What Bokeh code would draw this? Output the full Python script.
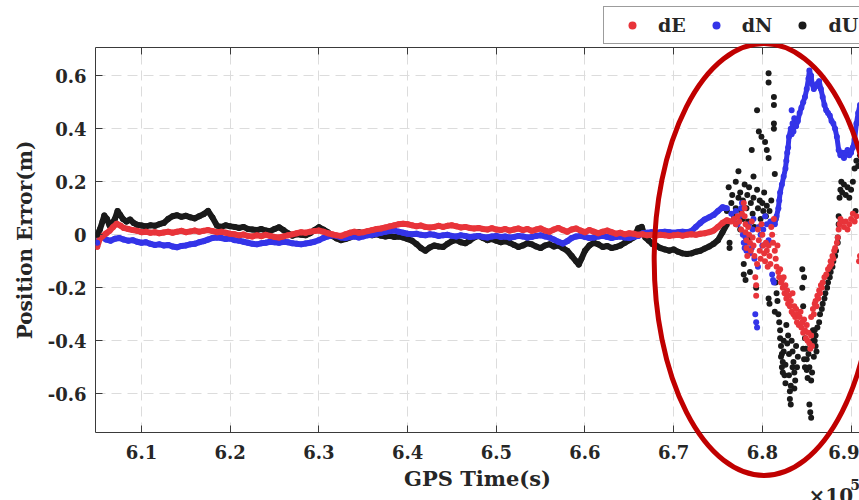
import numpy as np
from bokeh.plotting import figure
from bokeh.layouts import column
from bokeh.models import (Range1d, FixedTicker, LinearAxis, Legend, LegendItem, Label)
from bokeh.embed import file_html
from bokeh.resources import INLINE

# ---------------- data (x in units of 1e5 s, y in metres) ----------------
x_ticks = [6.1, 6.2, 6.3, 6.4, 6.5, 6.6, 6.7, 6.8, 6.9]
x_tick_labels = ["6.1", "6.2", "6.3", "6.4", "6.5", "6.6", "6.7", "6.8", "6.9"]
y_ticks = [-0.6, -0.4, -0.2, 0.0, 0.2, 0.4, 0.6]
y_tick_labels = ["-0.6", "-0.4", "-0.2", "0", "0.2", "0.4", "0.6"]

# dE (red) continuous part
dE_t = [6.050, 6.053, 6.056, 6.060, 6.064, 6.068, 6.072, 6.076, 6.080, 6.085, 6.090, 6.095,
        6.100, 6.105, 6.110, 6.115, 6.120, 6.125, 6.130, 6.135, 6.140, 6.145, 6.150, 6.155,
        6.160, 6.165, 6.170, 6.175, 6.180, 6.185, 6.190, 6.195, 6.200, 6.205, 6.210, 6.215,
        6.220, 6.225, 6.230, 6.235, 6.240, 6.245, 6.250, 6.255, 6.260, 6.265, 6.270, 6.275,
        6.280, 6.285, 6.290, 6.295, 6.300, 6.305, 6.310, 6.315, 6.320, 6.325, 6.330, 6.335,
        6.340, 6.345, 6.350, 6.355, 6.360, 6.365, 6.370, 6.375, 6.380, 6.385, 6.390, 6.395,
        6.400, 6.405, 6.410, 6.415, 6.420, 6.425, 6.430, 6.435, 6.440, 6.445, 6.450, 6.455,
        6.460, 6.465, 6.470, 6.475, 6.480, 6.485, 6.490, 6.495, 6.500, 6.505, 6.510, 6.515,
        6.520, 6.525, 6.530, 6.535, 6.540, 6.545, 6.550, 6.555, 6.560, 6.565, 6.570, 6.575,
        6.580, 6.585, 6.590, 6.595, 6.600, 6.605, 6.610, 6.615, 6.620, 6.625, 6.630, 6.635,
        6.640, 6.645, 6.650, 6.655, 6.660, 6.665, 6.670, 6.675, 6.680, 6.685, 6.690, 6.695,
        6.700, 6.705, 6.710, 6.715, 6.720, 6.725, 6.730, 6.735, 6.740, 6.745, 6.750, 6.755,
        6.760, 6.765]
dE_v = [-0.045, -0.015, -0.005, 0.005, 0.015, 0.030, 0.042, 0.035, 0.026, 0.022, 0.018, 0.015,
        0.010, 0.012, 0.008, 0.010, 0.006, 0.009, 0.012, 0.008, 0.012, 0.015, 0.010, 0.013,
        0.016, 0.012, 0.015, 0.018, 0.014, 0.010, 0.012, 0.008, 0.004, 0.002, -0.002, 0.001,
        -0.004, -0.006, -0.002, -0.005, 0.000, -0.004, -0.008, -0.010, -0.006, -0.002, 0.002, 0.006,
        0.010, 0.008, 0.012, 0.014, 0.016, 0.012, 0.006, 0.002, -0.002, -0.004, 0.002, 0.008,
        0.012, 0.008, 0.010, 0.014, 0.018, 0.022, 0.024, 0.028, 0.032, 0.036, 0.040, 0.042,
        0.040, 0.036, 0.032, 0.035, 0.030, 0.028, 0.030, 0.034, 0.030, 0.034, 0.036, 0.032,
        0.028, 0.030, 0.026, 0.024, 0.026, 0.022, 0.020, 0.025, 0.020, 0.018, 0.022, 0.016,
        0.020, 0.024, 0.018, 0.022, 0.015, 0.020, 0.024, 0.016, 0.012, 0.020, 0.026, 0.018,
        0.012, 0.020, 0.024, 0.016, 0.010, 0.018, 0.012, 0.006, 0.012, 0.016, 0.010, 0.004,
        0.008, 0.002, 0.006, 0.004, 0.000, 0.002, -0.002, 0.000, -0.003, 0.000, -0.002, -0.004,
        -0.002, 0.000, -0.003, 0.000, 0.002, 0.000, 0.004, 0.006, 0.010, 0.016, 0.030, 0.045,
        0.055, 0.050]
# dE scattered part
dE_st = [6.768, 6.770, 6.772, 6.774, 6.776, 6.777, 6.779, 6.780, 6.780, 6.781, 6.781, 6.782,
         6.782, 6.783, 6.784, 6.785, 6.786, 6.787, 6.788, 6.789, 6.790, 6.791, 6.792, 6.793,
         6.793, 6.794, 6.795, 6.796, 6.797, 6.798, 6.799, 6.800, 6.801, 6.802, 6.803, 6.804,
         6.805, 6.806, 6.807, 6.808, 6.809, 6.810, 6.811, 6.812, 6.813, 6.814, 6.815, 6.816,
         6.817, 6.818, 6.819, 6.820, 6.821, 6.822, 6.823, 6.824, 6.825, 6.826, 6.827, 6.828,
         6.829, 6.830, 6.831, 6.832, 6.833, 6.834, 6.835, 6.836, 6.837, 6.838, 6.839, 6.840,
         6.841, 6.842, 6.843, 6.844, 6.845, 6.846, 6.847, 6.848, 6.849, 6.850, 6.851, 6.852,
         6.853, 6.854, 6.855, 6.856, 6.855, 6.857, 6.858, 6.859, 6.860, 6.861, 6.862, 6.863,
         6.864, 6.865, 6.866, 6.867, 6.868, 6.870, 6.872, 6.874, 6.876, 6.877, 6.878, 6.879,
         6.880, 6.881, 6.882, 6.884, 6.885, 6.886, 6.887, 6.888, 6.890, 6.892, 6.894, 6.896,
         6.898, 6.900, 6.902, 6.904, 6.906, 6.909, 6.910]
dE_sv = [0.06, 0.04, 0.07, 0.05, 0.02, 0.08, 0.12, 0.10, 0.07, 0.04, 0.01, -0.02,
         -0.05, -0.08, 0.03, 0.00, -0.03, -0.06, 0.05, -0.01, -0.04, -0.08, -0.16, -0.19,
         -0.23, -0.11, 0.02, -0.02, -0.06, -0.09, 0.04, 0.00, -0.04, -0.07, -0.10, -0.03,
         -0.06, -0.12, -0.04, -0.08, -0.11, 0.03, 0.00, -0.03, 0.06, -0.06, -0.09, -0.12,
         -0.04, -0.14, -0.16, -0.13, -0.18, -0.17, -0.20, -0.16, -0.22, -0.19, -0.24, -0.21,
         -0.26, -0.23, -0.27, -0.25, -0.29, -0.22, -0.30, -0.27, -0.31, -0.28, -0.33, -0.30,
         -0.34, -0.31, -0.29, -0.35, -0.33, -0.37, -0.32, -0.36, -0.39, -0.34, -0.40, -0.37,
         -0.41, -0.43, -0.38, -0.42, -0.31, -0.28, -0.30, -0.26, -0.25, -0.27, -0.23, -0.24,
         -0.21, -0.22, -0.19, -0.20, -0.18, -0.16, -0.15, -0.13, -0.12, -0.10, -0.11, -0.08,
         -0.09, -0.06, -0.05, -0.03, -0.01, 0.02, 0.04, 0.06, 0.05, 0.03, 0.05, 0.02,
         0.04, 0.06, 0.08, 0.05, 0.07, -0.10, -0.08]

# dN (blue) continuous part
dN_t = [6.050, 6.053, 6.056, 6.060, 6.065, 6.070, 6.075, 6.080, 6.085, 6.090, 6.095, 6.100,
        6.105, 6.110, 6.115, 6.120, 6.125, 6.130, 6.135, 6.140, 6.145, 6.150, 6.155, 6.160,
        6.165, 6.170, 6.175, 6.180, 6.185, 6.190, 6.195, 6.200, 6.205, 6.210, 6.215, 6.220,
        6.225, 6.230, 6.235, 6.240, 6.245, 6.250, 6.255, 6.260, 6.265, 6.270, 6.275, 6.280,
        6.285, 6.290, 6.295, 6.300, 6.305, 6.310, 6.315, 6.320, 6.325, 6.330, 6.335, 6.340,
        6.345, 6.350, 6.355, 6.360, 6.365, 6.370, 6.375, 6.380, 6.385, 6.390, 6.395, 6.400,
        6.405, 6.410, 6.415, 6.420, 6.425, 6.430, 6.435, 6.440, 6.445, 6.450, 6.455, 6.460,
        6.465, 6.470, 6.475, 6.480, 6.485, 6.490, 6.495, 6.500, 6.505, 6.510, 6.515, 6.520,
        6.525, 6.530, 6.535, 6.540, 6.545, 6.550, 6.555, 6.560, 6.565, 6.570, 6.575, 6.580,
        6.585, 6.590, 6.595, 6.600, 6.605, 6.610, 6.615, 6.620, 6.625, 6.630, 6.635, 6.640,
        6.645, 6.650, 6.655, 6.660, 6.665, 6.670, 6.675, 6.680, 6.685, 6.690, 6.695, 6.700,
        6.705, 6.710, 6.715, 6.720, 6.725, 6.730, 6.735, 6.740, 6.745, 6.750, 6.755, 6.760]
dN_v = [-0.030, -0.012, -0.008, -0.018, -0.022, -0.015, -0.012, -0.018, -0.022, -0.020, -0.026, -0.030,
        -0.028, -0.034, -0.038, -0.036, -0.040, -0.038, -0.044, -0.047, -0.042, -0.040, -0.036, -0.034,
        -0.028, -0.024, -0.018, -0.012, -0.010, -0.012, -0.016, -0.014, -0.020, -0.022, -0.026, -0.030,
        -0.034, -0.036, -0.032, -0.030, -0.026, -0.028, -0.030, -0.026, -0.028, -0.032, -0.034, -0.036,
        -0.033, -0.030, -0.026, -0.020, -0.012, -0.006, -0.002, -0.004, -0.010, -0.012, -0.008, -0.006,
        -0.010, -0.006, -0.002, 0.000, 0.004, 0.008, 0.012, 0.014, 0.016, 0.012, 0.008, 0.004,
        0.002, 0.004, 0.000, -0.002, 0.002, 0.000, -0.004, -0.002, 0.000, -0.004, -0.006, -0.002,
        -0.004, -0.008, -0.006, -0.004, -0.008, -0.010, -0.006, -0.004, -0.008, -0.006, -0.010, -0.008,
        -0.004, -0.006, -0.010, -0.008, -0.004, -0.002, -0.006, -0.010, -0.018, -0.026, -0.033, -0.024,
        -0.012, -0.006, -0.004, -0.008, -0.012, -0.010, -0.006, -0.004, -0.008, -0.012, -0.008, -0.006,
        -0.010, -0.012, -0.008, -0.004, 0.006, 0.008, 0.010, 0.008, 0.010, 0.012, 0.010, 0.008,
        0.010, 0.012, 0.010, 0.014, 0.030, 0.045, 0.058, 0.066, 0.075, 0.090, 0.104, 0.100]
# dN scattered part
dN_st = [6.765, 6.768, 6.770, 6.772, 6.774, 6.776, 6.777, 6.778, 6.779, 6.780, 6.781, 6.782,
         6.784, 6.785, 6.786, 6.788, 6.789, 6.790, 6.791, 6.792, 6.793, 6.794, 6.795, 6.796,
         6.798, 6.800, 6.801, 6.803, 6.805, 6.807, 6.809, 6.811, 6.812, 6.813, 6.833]
dN_sv = [0.08, 0.06, 0.09, 0.04, 0.07, 0.10, 0.12, 0.00, -0.03, -0.05, -0.01, -0.06,
         -0.03, 0.04, -0.07, -0.05, 0.02, 0.06, -0.09, -0.30, -0.33, -0.35, -0.12, 0.03,
         0.00, -0.04, 0.02, 0.07, 0.04, -0.02, 0.05, -0.15, -0.17, -0.18, 0.47]
# dN rising branch
dN_rt = [6.814, 6.816, 6.818, 6.819, 6.820, 6.822, 6.824, 6.826, 6.827, 6.828, 6.829, 6.830,
         6.832, 6.833, 6.834, 6.835, 6.836, 6.838, 6.840, 6.842, 6.844, 6.846, 6.848, 6.850,
         6.852, 6.853, 6.855, 6.856, 6.858, 6.860, 6.862, 6.864, 6.866, 6.868, 6.870, 6.872,
         6.874, 6.876, 6.878, 6.880, 6.882, 6.884, 6.886, 6.888, 6.890, 6.892, 6.894, 6.896,
         6.898, 6.900, 6.902, 6.904, 6.906, 6.908, 6.910]
dN_rv = [0.04, 0.07, 0.10, 0.13, 0.16, 0.19, 0.22, 0.25, 0.28, 0.31, 0.33, 0.37,
         0.40, 0.38, 0.42, 0.39, 0.44, 0.41, 0.43, 0.46, 0.48, 0.50, 0.52, 0.55,
         0.59, 0.62, 0.60, 0.57, 0.55, 0.56, 0.57, 0.58, 0.55, 0.52, 0.49, 0.47,
         0.46, 0.45, 0.43, 0.42, 0.40, 0.37, 0.32, 0.30, 0.31, 0.29, 0.31, 0.32,
         0.30, 0.31, 0.33, 0.36, 0.42, 0.46, 0.49]

# dU (black) continuous part
dU_t = [6.050, 6.053, 6.056, 6.058, 6.061, 6.064, 6.067, 6.070, 6.073, 6.076, 6.079, 6.083,
        6.087, 6.091, 6.095, 6.100, 6.105, 6.110, 6.115, 6.120, 6.125, 6.130, 6.135, 6.140,
        6.145, 6.150, 6.155, 6.160, 6.165, 6.170, 6.175, 6.180, 6.185, 6.190, 6.195, 6.200,
        6.205, 6.210, 6.215, 6.220, 6.225, 6.230, 6.235, 6.240, 6.245, 6.250, 6.255, 6.260,
        6.265, 6.270, 6.275, 6.280, 6.285, 6.290, 6.295, 6.300, 6.305, 6.310, 6.315, 6.320,
        6.325, 6.330, 6.335, 6.340, 6.345, 6.350, 6.355, 6.360, 6.365, 6.370, 6.375, 6.380,
        6.385, 6.390, 6.395, 6.400, 6.405, 6.410, 6.415, 6.420, 6.425, 6.430, 6.435, 6.440,
        6.445, 6.450, 6.455, 6.460, 6.465, 6.470, 6.475, 6.480, 6.485, 6.490, 6.495, 6.500,
        6.505, 6.510, 6.515, 6.520, 6.525, 6.530, 6.535, 6.540, 6.545, 6.550, 6.555, 6.560,
        6.565, 6.570, 6.575, 6.580, 6.585, 6.590, 6.593, 6.596, 6.600, 6.605, 6.610, 6.615,
        6.620, 6.625, 6.630, 6.635, 6.640, 6.645, 6.650, 6.655, 6.660, 6.664, 6.668, 6.672,
        6.676, 6.680, 6.685, 6.690, 6.695, 6.700, 6.705, 6.710, 6.715, 6.720, 6.725, 6.730,
        6.735, 6.740, 6.745, 6.750, 6.755, 6.760]
dU_v = [0.000, 0.020, 0.050, 0.073, 0.060, 0.035, 0.045, 0.060, 0.090, 0.075, 0.060, 0.050,
        0.058, 0.045, 0.038, 0.035, 0.032, 0.036, 0.034, 0.040, 0.045, 0.060, 0.070, 0.074,
        0.068, 0.072, 0.066, 0.062, 0.070, 0.078, 0.090, 0.065, 0.035, 0.030, 0.036, 0.032,
        0.030, 0.026, 0.030, 0.022, 0.020, 0.018, 0.022, 0.016, 0.014, 0.022, 0.029, 0.018,
        0.006, -0.003, 0.002, 0.000, -0.002, 0.006, 0.018, 0.029, 0.020, 0.010, -0.004, -0.014,
        -0.020, -0.016, -0.010, 0.000, 0.010, 0.006, 0.000, -0.002, 0.002, -0.003, -0.006, -0.004,
        -0.008, -0.006, -0.010, -0.016, -0.022, -0.035, -0.050, -0.060, -0.048, -0.040, -0.044, -0.046,
        -0.034, -0.024, -0.020, -0.028, -0.032, -0.022, -0.010, -0.004, -0.012, -0.020, -0.016, -0.022,
        -0.028, -0.024, -0.030, -0.038, -0.046, -0.040, -0.032, -0.036, -0.044, -0.050, -0.040, -0.036,
        -0.044, -0.040, -0.050, -0.060, -0.080, -0.100, -0.112, -0.090, -0.060, -0.040, -0.030, -0.036,
        -0.046, -0.042, -0.050, -0.046, -0.040, -0.030, -0.020, -0.010, 0.025, 0.030, -0.010, -0.022,
        -0.035, -0.040, -0.050, -0.055, -0.060, -0.055, -0.064, -0.070, -0.072, -0.070, -0.064, -0.060,
        -0.052, -0.044, -0.034, -0.020, 0.010, 0.040]
# dU scattered part
dU_st = [6.762, 6.760, 6.763, 6.763, 6.765, 6.766, 6.768, 6.770, 6.770, 6.771, 6.773, 6.773,
         6.775, 6.775, 6.776, 6.778, 6.778, 6.779, 6.779, 6.780, 6.781, 6.782, 6.783, 6.784,
         6.785, 6.785, 6.786, 6.787, 6.788, 6.789, 6.790, 6.790, 6.791, 6.793, 6.794, 6.794,
         6.795, 6.796, 6.797, 6.798, 6.799, 6.800, 6.801, 6.802, 6.803, 6.804, 6.805, 6.805,
         6.807, 6.807, 6.807, 6.807, 6.808, 6.808, 6.810, 6.811, 6.813, 6.813, 6.813, 6.813,
         6.814, 6.814, 6.815, 6.815, 6.816, 6.818, 6.820, 6.821, 6.822, 6.822, 6.823, 6.824,
         6.825, 6.826, 6.827, 6.829, 6.831, 6.831, 6.832, 6.833, 6.834, 6.835, 6.836, 6.837,
         6.838, 6.840, 6.845, 6.845, 6.846, 6.847, 6.848, 6.849, 6.850, 6.850, 6.851, 6.853,
         6.854, 6.855, 6.855, 6.856, 6.857, 6.858, 6.859, 6.860, 6.860, 6.862, 6.864, 6.865,
         6.867, 6.868, 6.870, 6.871, 6.873, 6.874, 6.876, 6.877, 6.879, 6.880, 6.882, 6.883,
         6.885, 6.885, 6.886, 6.886, 6.887, 6.888, 6.889, 6.890, 6.892, 6.894, 6.896, 6.898,
         6.900, 6.902, 6.904, 6.905, 6.906, 6.908, 6.910,
         6.817, 6.819, 6.820, 6.821, 6.823, 6.824, 6.826, 6.828, 6.830, 6.830, 6.832, 6.834,
         6.836, 6.839, 6.846, 6.847, 6.848, 6.852, 6.853, 6.857, 6.859, 6.861]
dU_sv = [0.18, 0.09, -0.05, -0.03, 0.12, 0.15, 0.07, 0.20, 0.10, 0.04, 0.24, 0.14,
         0.16, 0.02, 0.09, 0.13, 0.06, -0.11, -0.15, 0.19, -0.17, 0.10, 0.15, 0.05,
         0.18, -0.01, -0.14, 0.12, 0.32, 0.08, 0.22, 0.14, 0.03, -0.20, 0.47, 0.17,
         0.10, 0.39, 0.13, 0.06, 0.37, 0.12, 0.09, 0.16, 0.35, 0.07, 0.32, 0.11,
         0.61, 0.575, 0.29, -0.24, -0.26, 0.09, 0.13, 0.05, 0.52, 0.49, 0.42, 0.40,
         0.23, -0.29, 0.06, -0.18, -0.22, -0.30, -0.36, -0.42, -0.45, -0.50, -0.48, -0.40,
         -0.53, -0.56, -0.34, -0.38, -0.59, -0.62, -0.64, -0.40, -0.44, -0.48, -0.52, -0.55,
         -0.42, -0.46, -0.13, -0.20, -0.27, -0.16, -0.39, -0.43, -0.47, -0.51, -0.54, -0.64,
         -0.67, -0.69, -0.55, -0.52, -0.36, -0.46, -0.40, -0.42, -0.38, -0.35, -0.33, -0.30,
         -0.28, -0.26, -0.24, -0.22, -0.20, -0.18, -0.16, -0.14, -0.12, -0.10, -0.08, -0.06,
         -0.03, -0.01, 0.04, 0.07, 0.14, 0.17, 0.20, 0.16, 0.19, 0.15, 0.18, 0.14,
         0.17, 0.20, 0.25, 0.09, 0.28, 0.26, 0.30,
         -0.25, -0.33, -0.39, -0.46, -0.52, -0.44, -0.49, -0.41, -0.45, -0.53, -0.57, -0.50,
         -0.58, -0.50, -0.43, -0.47, -0.50, -0.45, -0.50, -0.40, -0.36, -0.44]

series_names = ["dE", "dN", "dU"]

# highlight ellipse (data units)
ell_cx, ell_cy, ell_w, ell_h = 6.802, -0.093, 0.248, 1.63

# ---------------- layout constants ----------------
W, H = 859, 500
BL, BR, BT, BB = 95, 0, 47, 68
X0, X1 = 6.0481, 6.9095
Y0, Y1 = -0.746, 0.707

FONT = "DejaVu Serif"
TXT = "#262626"
AX = "#3a3a3a"
RED, BLUE, BLACK = "#e8343a", "#3434e8", "#1a1a1a"

p = figure(width=W, height=H, output_backend="svg", toolbar_location=None,
           x_range=Range1d(X0, X1), y_range=Range1d(Y0, Y1),
           min_border_left=BL, min_border_right=BR, min_border_top=BT, min_border_bottom=BB)
p.outline_line_color = None

xt = FixedTicker(ticks=x_ticks)
yt = FixedTicker(ticks=y_ticks)

for ax in (p.xaxis[0], p.yaxis[0]):
    ax.axis_line_color = AX
    ax.major_tick_line_color = AX
    ax.major_tick_in = 7
    ax.major_tick_out = 0
    ax.minor_tick_line_color = None
    ax.major_label_text_font = FONT
    ax.major_label_text_font_style = "bold"
    ax.major_label_text_font_size = "18px"
    ax.major_label_text_color = TXT
    ax.axis_label_text_font = FONT
    ax.axis_label_text_font_style = "bold"
    ax.axis_label_text_color = TXT

p.xaxis[0].ticker = xt
p.xaxis[0].major_label_overrides = dict(zip(x_ticks, x_tick_labels))
p.xaxis[0].major_label_standoff = 12
p.xaxis[0].axis_label = "GPS Time(s)"
p.xaxis[0].axis_label_text_font_size = "21px"
p.xaxis[0].axis_label_standoff = 4

p.yaxis[0].ticker = yt
p.yaxis[0].major_label_overrides = dict(zip(y_ticks, y_tick_labels))
p.yaxis[0].major_label_standoff = 9
p.yaxis[0].axis_label = "Position Error(m)"
p.yaxis[0].axis_label_text_font_size = "20px"
p.yaxis[0].axis_label_standoff = 8

top = LinearAxis(ticker=FixedTicker(ticks=x_ticks),
                 major_label_overrides={t: "" for t in x_ticks},
                 axis_line_color=AX, major_tick_line_color=AX, major_tick_in=7,
                 major_tick_out=0, minor_tick_line_color=None, major_label_standoff=0)
p.add_layout(top, "above")

for g, t in ((p.xgrid[0], xt), (p.ygrid[0], yt)):
    g.ticker = t
    g.grid_line_color = "#dcdcdc"
    g.grid_line_dash = "10 6"
    g.grid_line_width = 1

# ---------------- series ----------------
S = 6
p.line(dU_t, dU_v, line_color=BLACK, line_width=6, line_join="round")
p.scatter(dU_t, dU_v, size=S, fill_color=BLACK, line_color=None)
p.scatter(dU_st, dU_sv, size=S, fill_color=BLACK, line_color=None)

p.line(dN_t, dN_v, line_color=BLUE, line_width=6, line_join="round")
p.scatter(dN_t, dN_v, size=S, fill_color=BLUE, line_color=None)
p.scatter(dN_st, dN_sv, size=S, fill_color=BLUE, line_color=None)
p.line(dN_rt, dN_rv, line_color=BLUE, line_width=5, line_join="round")
p.scatter(dN_rt, dN_rv, size=S, fill_color=BLUE, line_color=None)

p.line(dE_t, dE_v, line_color=RED, line_width=6, line_join="round")
p.scatter(dE_t, dE_v, size=S, fill_color=RED, line_color=None)
p.scatter(dE_st, dE_sv, size=S, fill_color=RED, line_color=None)

# ---------------- transparent overlay (same x frame, full canvas height) ----------------
sy = (Y1 - Y0) / (H - BT - BB)
q = figure(width=W, height=H, output_backend="svg", toolbar_location=None,
           x_range=Range1d(X0, X1),
           y_range=Range1d(Y0 - BB * sy, Y1 + BT * sy),
           min_border_left=BL, min_border_right=BR, min_border_top=0, min_border_bottom=0,
           x_axis_type=None, y_axis_type=None)
q.outline_line_color = None
q.background_fill_alpha = 0
q.border_fill_alpha = 0
q.styles = {"margin-top": f"-{H}px"}

q.ellipse(x=[ell_cx], y=[ell_cy], width=[ell_w], height=[ell_h],
          fill_color=None, line_color="#c00000", line_width=5)

q.add_layout(Label(x=6.852, y=-0.985, text="×10", text_font=FONT, text_font_style="bold",
                   text_font_size="20px", text_color=TXT, text_baseline="alphabetic"))
q.add_layout(Label(x=6.899, y=-0.942, text="5", text_font=FONT, text_font_style="bold",
                   text_font_size="14px", text_color=TXT, text_baseline="alphabetic"))

# legend keys: one real sample of each series, redrawn where it already is
kE = q.scatter(dE_t[:1], dE_v[:1], size=S, fill_color=RED, line_color=None)
kN = q.scatter(dN_t[:1], dN_v[:1], size=S, fill_color=BLUE, line_color=None)
kU = q.scatter(dU_t[:1], dU_v[:1], size=S, fill_color=BLACK, line_color=None)
legend = Legend(items=[LegendItem(label=n, renderers=[r])
                       for n, r in zip(series_names, (kE, kN, kU))],
                orientation="horizontal", location=(603 - BL, H - 44),
                border_line_color=AX, border_line_width=1, background_fill_color="white",
                background_fill_alpha=1, label_text_font=FONT, label_text_font_style="bold",
                label_text_font_size="19px", label_text_color=TXT, glyph_width=42,
                glyph_height=20, label_standoff=5, spacing=9, padding=7, margin=0)
q.add_layout(legend)

layout = column(p, q, spacing=0)
open("out.html", "w").write(file_html(layout, INLINE))
